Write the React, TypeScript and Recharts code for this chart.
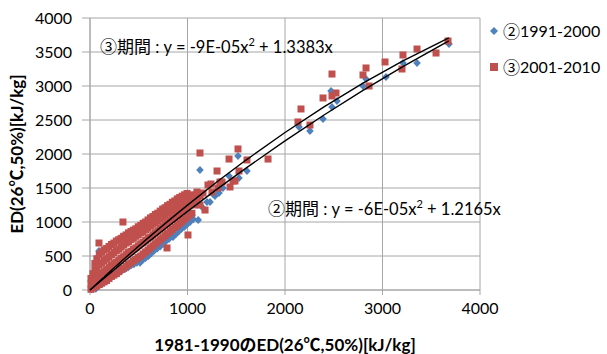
import React from "react";
import {
  ScatterChart,
  Scatter,
  XAxis,
  YAxis,
  CartesianGrid,
} from "recharts";

// ②1991-2000 (x: 1981-1990 value, y: 1991-2000 value)
const period2Points: [number, number][] = [
  [15, 10], [40, 40], [60, 20], [90, 80], [120, 90], [150, 130], [180, 150],
  [210, 180], [240, 210], [270, 230], [300, 260], [330, 290], [360, 310],
  [390, 330], [420, 360], [450, 380], [480, 400], [513, 400], [540, 440],
  [570, 470], [600, 500], [630, 540], [660, 580], [690, 610], [720, 640],
  [750, 680], [780, 720], [810, 750], [851, 779], [880, 820], [910, 860],
  [940, 900], [970, 930], [1000, 970], [1026, 1000], [1060, 1040], [1110, 1030],
  [100, 200], [200, 300], [300, 400], [400, 520], [500, 650], [600, 750],
  [700, 880], [800, 1000], [900, 1100], [1000, 1200],
  [92, 574], [1046, 1103], [1149, 1221], [1200, 1294], [1231, 1294], [1262, 1412],
  [1282, 1382], [1313, 1471], [1323, 1426], [1364, 1500], [1426, 1676],
  [1528, 1647], [1610, 1750], [1518, 1971], [1128, 1765],
  [2144, 2397], [2256, 2338], [2390, 2515], [2482, 2691], [2533, 2779],
  [2472, 2926], [2800, 3000], [2831, 3103], [3036, 3132], [3210, 3338],
  [3354, 3338], [3682, 3618],
];

// ③2001-2010
const period3Points: [number, number][] = [
  [10, 10], [10, 90], [10, 170],
  [30, 30], [30, 130], [30, 240],
  [50, 50], [50, 160], [50, 290], [50, 390],
  [70, 60], [70, 190], [70, 330], [70, 460],
  [95, 80], [95, 220], [95, 370], [95, 520],
  [120, 100], [120, 250], [120, 400], [120, 560],
  [145, 120], [145, 270], [145, 430], [145, 590],
  [170, 140], [170, 300], [170, 460], [170, 610],
  [195, 170], [195, 330], [195, 490], [195, 640],
  [220, 200], [220, 360], [220, 520], [220, 670],
  [245, 220], [245, 390], [245, 550], [245, 690],
  [270, 240], [270, 410], [270, 580], [270, 720],
  [295, 270], [295, 440], [295, 600], [295, 740],
  [320, 300], [320, 470], [320, 630], [320, 760],
  [345, 320], [345, 490], [345, 660], [345, 790],
  [370, 350], [370, 520], [370, 690], [370, 810],
  [395, 380], [395, 550], [395, 710], [395, 840],
  [420, 400], [420, 570], [420, 740], [420, 860],
  [445, 430], [445, 600], [445, 760], [445, 880],
  [470, 450], [470, 620], [470, 790], [470, 900],
  [495, 480], [495, 650], [495, 810], [495, 930],
  [520, 500], [520, 680], [520, 840], [520, 950],
  [545, 530], [545, 700], [545, 860], [545, 980],
  [570, 560], [570, 730], [570, 890], [570, 1000],
  [595, 590], [595, 760], [595, 910], [595, 1030],
  [620, 620], [620, 780], [620, 940], [620, 1060],
  [645, 650], [645, 810], [645, 970], [645, 1080],
  [670, 680], [670, 840], [670, 990], [670, 1110],
  [695, 710], [695, 870], [695, 1020], [695, 1130],
  [720, 740], [720, 900], [720, 1050], [720, 1160],
  [745, 770], [745, 930], [745, 1070], [745, 1190],
  [770, 800], [770, 960], [770, 1100], [770, 1210],
  [795, 830], [795, 990], [795, 1130], [795, 1240],
  [820, 860], [820, 1020], [820, 1160], [820, 1260],
  [845, 890], [845, 1050], [845, 1180], [845, 1290],
  [870, 920], [870, 1080], [870, 1210], [870, 1310],
  [895, 950], [895, 1110], [895, 1240], [895, 1340],
  [920, 980], [920, 1140], [920, 1270], [920, 1360],
  [945, 1010], [945, 1170], [945, 1300], [945, 1380],
  [970, 1040], [970, 1200], [970, 1330], [970, 1400],
  [995, 1070], [995, 1230], [995, 1350], [995, 1420],
  [1020, 1100], [1020, 1260], [1020, 1380],
  [1045, 1130], [1045, 1290], [1045, 1400],
  [1070, 1250], [1070, 1380], [1100, 1300], [1100, 1420], [1130, 1380],
  [92, 691], [338, 1000], [790, 618], [1005, 809],
  [1128, 2015], [1518, 2074], [1426, 1926], [1610, 1912], [1826, 1926],
  [1303, 1750], [1528, 1750], [1467, 1603], [1436, 1515], [1333, 1588],
  [1241, 1559], [1313, 1500], [1097, 1441], [1210, 1544], [1251, 1441],
  [1159, 1426], [1180, 1176], [1128, 1250], [1354, 1588], [1487, 1603],
  [2133, 2471], [2164, 2662], [2256, 2426], [2390, 2824], [2482, 2853],
  [2523, 2897], [2482, 3176], [2800, 3162], [2831, 3265], [2862, 3000],
  [3026, 3353], [3200, 3250], [3210, 3456], [3354, 3544], [3549, 3485],
  [3672, 3662],
];

// trend lines shown on the chart: y = a x^2 + b x
const trend2Coef = [-6e-5, 1.2165];
const trend3Coef = [-9e-5, 1.3383];
const trendX = [0, 200, 400, 600, 800, 1000, 1300, 1600, 2000, 2400, 2800, 3200, 3680];

const xTicks = [0, 1000, 2000, 3000, 4000];
const yTicks = [0, 500, 1000, 1500, 2000, 2500, 3000, 3500, 4000];

const toXY = (pts: [number, number][]) => pts.map(([x, y]) => ({ x, y }));
const trend = (c: number[]) => trendX.map((x) => ({ x, y: c[0] * x * x + c[1] * x }));

const BLUE = "#4f81bd";
const RED = "#c0504d";
const GRID = "#a6a6a6";
const FONT = "Lato, 'Noto Sans CJK JP', sans-serif";
const CJK = "'Noto Sans CJK JP', sans-serif";

const Diamond = (p: any) => (
  <path
    d={`M${p.cx},${p.cy - 4} L${p.cx + 3.8},${p.cy} L${p.cx},${p.cy + 4} L${p.cx - 3.8},${p.cy} Z`}
    fill={BLUE}
  />
);
const Square = (p: any) => (
  <rect x={p.cx - 3.5} y={p.cy - 3.5} width={7} height={7} fill={RED} />
);
const NoDot = () => <g />;

const tickStyle = { fontSize: 16, fill: "#000", fontFamily: FONT };

const Eq = ({ n, a, b }: { n: string; a: string; b: string }) => (
  <>
    <span style={{ fontFamily: CJK, fontSize: 17 }}>{n}期間</span>
    {" : y = "}
    {a}x<sup style={{ fontSize: 11 }}>2</sup>
    {" + "}
    {b}x
  </>
);

export default function App() {
  return (
    <div style={{ position: "absolute", left: 0, top: 0, width: 607, height: 354, fontFamily: FONT }}>
      <ScatterChart width={607} height={354} margin={{ top: 18, right: 127, bottom: 0, left: 0 }}>
        <CartesianGrid stroke={GRID} strokeWidth={1} />
        <XAxis
          type="number"
          dataKey="x"
          domain={[0, 4000]}
          ticks={xTicks}
          height={64}
          tickSize={5}
          tickMargin={8}
          stroke={GRID}
          tick={tickStyle}
          label={{
            value: "1981-1990のED(26℃,50%)[kJ/kg]",
            position: "insideBottom",
            offset: 3,
            style: { fontSize: 17, fontWeight: 700, fill: "#000", fontFamily: FONT },
          }}
        />
        <YAxis
          type="number"
          dataKey="y"
          domain={[0, 4000]}
          ticks={yTicks}
          width={90}
          tickSize={8}
          tickMargin={10}
          stroke={GRID}
          tick={tickStyle}
          label={{
            value: "ED(26℃,50%)[kJ/kg]",
            angle: -90,
            position: "insideLeft",
            offset: 17,
            style: { fontSize: 17, fontWeight: 700, fill: "#000", fontFamily: FONT, textAnchor: "middle" },
          }}
        />
        <Scatter name="②1991-2000" data={toXY(period2Points)} shape={Diamond} isAnimationActive={false} />
        <Scatter name="③2001-2010" data={toXY(period3Points)} shape={Square} isAnimationActive={false} />
        <Scatter
          data={trend(trend3Coef)}
          line={{ stroke: "#000", strokeWidth: 1.4 }}
          lineType="joint"
          shape={NoDot}
          isAnimationActive={false}
        />
        <Scatter
          data={trend(trend2Coef)}
          line={{ stroke: "#000", strokeWidth: 1.4 }}
          lineType="joint"
          shape={NoDot}
          isAnimationActive={false}
        />
      </ScatterChart>

      <div style={{ position: "absolute", left: 100, top: 31, fontSize: 16.5, whiteSpace: "nowrap", lineHeight: "22px" }}>
        <Eq n="③" a="-9E-05" b="1.3383" />
      </div>
      <div style={{ position: "absolute", left: 268, top: 193, fontSize: 16.5, whiteSpace: "nowrap", lineHeight: "22px" }}>
        <Eq n="②" a="-6E-05" b="1.2165" />
      </div>

      <div style={{ position: "absolute", left: 488, top: 20, fontSize: 16, lineHeight: "22px" }}>
        <div style={{ display: "flex", alignItems: "center", height: 22 }}>
          <svg width={12} height={12} style={{ marginRight: 3 }}>
            <path d="M6,2 L10,6 L6,10 L2,6 Z" fill={BLUE} />
          </svg>
          <span style={{ fontFamily: CJK, fontSize: 17 }}>②</span>1991-2000
        </div>
        <div style={{ display: "flex", alignItems: "center", height: 22, marginTop: 14 }}>
          <svg width={12} height={12} style={{ marginRight: 3 }}>
            <rect x={2} y={2} width={8} height={8} fill={RED} />
          </svg>
          <span style={{ fontFamily: CJK, fontSize: 17 }}>③</span>2001-2010
        </div>
      </div>
    </div>
  );
}
